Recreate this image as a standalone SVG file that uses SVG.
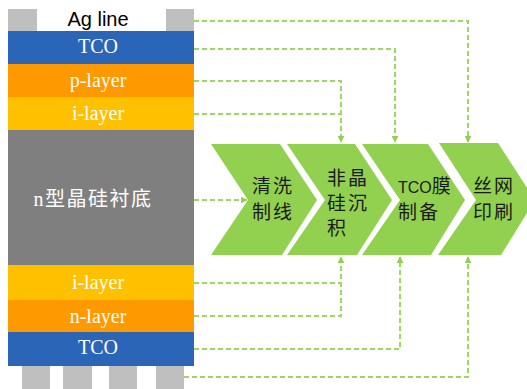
<svg xmlns="http://www.w3.org/2000/svg" width="527" height="389" viewBox="0 0 527 389">
<style>
.lt{font-family:"Liberation Serif","Noto Sans CJK SC",serif;font-size:20px;fill:#fff;text-anchor:middle}
.ct{font-family:"Noto Sans CJK SC","Liberation Sans",sans-serif;font-size:19px;fill:#1a1a1a;letter-spacing:2px}
.pad{fill:#BFBFBF}
.chev{fill:#92D050}
.con{fill:none;stroke:#9ED766;stroke-width:2;stroke-dasharray:5 3}
</style>
<defs>
<marker id="ah" viewBox="0 0 10 10" refX="9" refY="5" markerWidth="7" markerHeight="7" markerUnits="userSpaceOnUse" orient="auto">
<path d="M0,0 L10,5 L0,10 z" fill="#92D050"/>
</marker>
</defs>
<rect width="527" height="389" fill="#fff"/>
<g id="stack">
<g id="ag-top">
<rect class="pad" x="8" y="9" width="29" height="23"/>
<rect class="pad" x="166" y="9" width="28" height="23"/>
<text x="98" y="26" font-family="Liberation Sans,Arial,sans-serif" font-size="20" fill="#000" text-anchor="middle">Ag line</text>
</g>
<g id="tco-top"><rect x="8" y="31" width="186" height="33" fill="#2B65B7"/><text class="lt" x="98" y="53">TCO</text></g>
<g id="p-layer"><rect x="8" y="64" width="186" height="33" fill="#FF9900"/><text class="lt" x="98" y="87">p-layer</text></g>
<g id="i-layer-top"><rect x="8" y="97" width="186" height="33" fill="#FFC000"/><text class="lt" x="98" y="120">i-layer</text></g>
<g id="substrate"><rect x="8" y="130" width="186" height="135" fill="#7F7F7F"/><text class="lt" x="93" y="206" font-size="18" letter-spacing="1.5">n型晶硅衬底</text></g>
<g id="i-layer-bot"><rect x="8" y="265" width="186" height="35" fill="#FFC000"/><text class="lt" x="98" y="289">i-layer</text></g>
<g id="n-layer"><rect x="8" y="300" width="186" height="32" fill="#FF9900"/><text class="lt" x="98" y="323">n-layer</text></g>
<g id="tco-bot"><rect x="8" y="332" width="186" height="34" fill="#2B65B7"/><text class="lt" x="98" y="354">TCO</text></g>
<g id="ag-bot">
<rect class="pad" x="22" y="366" width="28" height="23"/>
<rect class="pad" x="63" y="366" width="29" height="23"/>
<rect class="pad" x="109" y="366" width="28" height="23"/>
<rect class="pad" x="156" y="366" width="28" height="23"/>
</g>
</g>
<g id="step1"><path class="chev" d="M211,144 L280,144 L317,200 L282,255 L211,255 L248,200 z"/>
<text class="ct"><tspan x="252" y="193">清洗</tspan><tspan x="252" y="219">制线</tspan></text></g>
<g id="step2"><path class="chev" d="M287,144 L355,144 L392,200 L357,255 L287,255 L325,200 z"/>
<text class="ct" font-size="18"><tspan x="327" y="185">非晶</tspan><tspan x="327" y="210">硅沉</tspan><tspan x="327" y="235">积</tspan></text></g>
<g id="step3"><path class="chev" d="M362,144 L428,144 L465,200 L431,255 L362,255 L400,200 z"/>
<text class="ct"><tspan x="398" y="193"><tspan font-family="Liberation Sans,Arial,sans-serif" font-size="16" letter-spacing="0">TCO</tspan><tspan letter-spacing="0">膜</tspan></tspan><tspan x="398" y="219">制备</tspan></text></g>
<g id="step4"><path class="chev" d="M439,143 L498,143 L535,200 L501,255 L438,255 L476,200 z"/>
<text class="ct"><tspan x="473" y="193">丝网</tspan><tspan x="473" y="219">印刷</tspan></text></g>
<g id="connectors">
<path class="con" d="M194,21 L468,21 L468,142" marker-end="url(#ah)"/>
<path class="con" d="M194,49 L395,49 L395,142" marker-end="url(#ah)"/>
<path class="con" d="M194,81 L341,81 L341,142" marker-end="url(#ah)"/>
<path class="con" d="M194,114 L341,114"/>
<path class="con" d="M194,200 L247,200" marker-end="url(#ah)"/>
<path class="con" d="M194,316 L341,316 L341,257" marker-end="url(#ah)"/>
<path class="con" d="M194,283 L341,283"/>
<path class="con" d="M194,349 L400,349 L400,257" marker-end="url(#ah)"/>
<path class="con" d="M184,377 L468,377 L468,257" marker-end="url(#ah)"/>
</g>
</svg>
